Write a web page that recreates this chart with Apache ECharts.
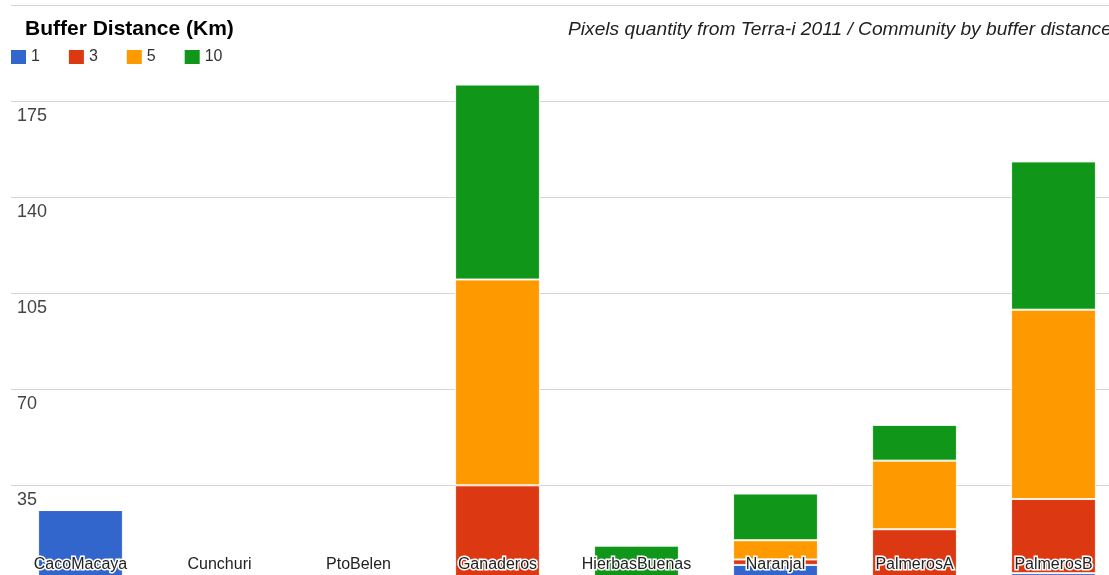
<!DOCTYPE html>
<html>
<head>
<meta charset="utf-8">
<script src="https://cdn.jsdelivr.net/npm/echarts@6/dist/echarts.min.js"></script>
<style>
html,body{margin:0;padding:0;background:#fff;overflow:hidden;width:1109px;height:575px;}
#c{width:1123px;height:582px;}
</style>
</head>
<body>
<div id="c"></div>
<script>
var categories = ['CacoMacaya','Cunchuri','PtoBelen','Ganaderos','HierbasBuenas','Naranjal','PalmerosA','PalmerosB'];
var seriesNames = ['1','3','5','10'];
var buffer1  = [26, 0, 0, 0, 0, 6, 0, 3];
var buffer3  = [0, 0, 0, 35, 0, 2, 19, 27];
var buffer5  = [0, 0, 0, 75, 0, 7, 25, 69];
var buffer10 = [0, 0, 0, 71, 13, 17, 13, 54];
var yTicks = [35, 70, 105, 140, 175];
var colors = ['#3366cc','#dc3912','#ff9900','#109618'];

var chart = echarts.init(document.getElementById('c'), null, {renderer:'canvas'});
var font = '"Liberation Sans", Arial, sans-serif';
function mk(name, data, i){
  return {
    name: name, type: 'bar', stack: 'total', data: data,
    barCategoryGap: '39%',
    itemStyle: {color: colors[i], borderColor: 'rgba(255,255,255,0.85)', borderWidth: 1},
    emphasis: {disabled: true},
    animation: false
  };
}
chart.setOption({
  animation: false,
  color: colors,
  textStyle: {fontFamily: font},
  grid: {left: 11, right: 0, top: 5, bottom: 0.6, containLabel: false},
  graphic: [
    {type: 'text', left: 25, top: 19, z: 20, style: {text: 'Buffer Distance (Km)', font: 'bold 21px ' + font, fill: '#000'}},
    {type: 'text', x: 568, y: 30, z: 20, style: {text: 'Pixels quantity from Terra-i 2011 / Community by buffer distance', font: 'italic 19.2px ' + font, fill: '#222', textVerticalAlign: 'middle'}}
  ],
  legend: {
    left: 11, top: 49, padding: 0, icon: 'rect', itemWidth: 15, itemHeight: 14, itemGap: 29,
    itemStyle: {borderWidth: 0},
    textStyle: {fontSize: 16, color: '#333', fontFamily: font},
    data: seriesNames, selectedMode: false
  },
  xAxis: {
    type: 'category', data: categories, z: 10,
    axisLine: {show: false}, axisTick: {show: false},
    axisLabel: {inside: true, margin: 17, verticalAlign: 'middle', interval: 0,
      fontSize: 16, color: '#222', fontFamily: font,
      textBorderColor: '#fff', textBorderWidth: 3}
  },
  yAxis: {
    type: 'value', min: 0, max: 210, interval: 35,
    axisLine: {show: false}, axisTick: {show: false},
    splitLine: {lineStyle: {color: '#d6d6d6', width: 1}},
    axisLabel: {inside: true, margin: 6, verticalAlign: 'top', padding: [6,0,0,0],
      fontSize: 18, color: '#444', fontFamily: font,
      formatter: function(v){ return yTicks.indexOf(v) >= 0 ? String(v) : ''; }}
  },
  series: [mk(seriesNames[0], buffer1, 0), mk(seriesNames[1], buffer3, 1), mk(seriesNames[2], buffer5, 2), mk(seriesNames[3], buffer10, 3)]
});
</script>
</body>
</html>
